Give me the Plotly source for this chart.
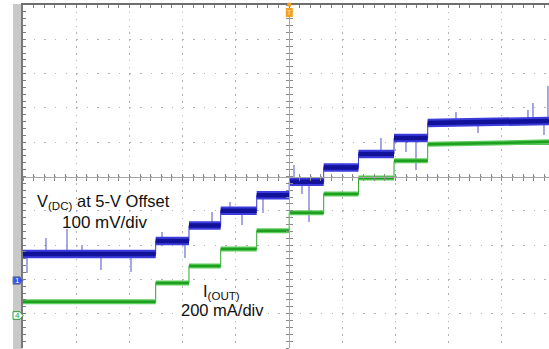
import numpy as np
import plotly.graph_objects as go

# ---------------- data (screen divisions: x = time div, y = vertical div) ----------------
step_t = [0.0, 2.494, 3.120, 3.716, 4.393, 5.004, 5.652, 6.306, 6.974, 7.607]
vdc_levels = [2.741, 3.120, 3.571, 4.003, 4.452, 4.848, 5.262, 5.656, 6.122, 6.560]
vdc_end = 6.62
iout_levels = [1.350, 1.895, 2.391, 2.886, 3.420, 3.945, 4.490, 4.956, 5.461, 5.939]
iout_end = 6.01

vdc_spike_t = [0.075, 0.432, 0.827, 1.109, 1.466, 2.030, 2.613, 3.045, 3.553, 3.891,
               4.117, 4.511, 5.094, 5.244, 5.376, 6.729, 7.199, 7.387, 8.139, 8.553,
               9.492, 9.586, 9.793, 9.868]
vdc_spike_tip = [2.187, 3.207, 3.469, 3.003, 2.274, 2.216, 3.382, 2.624, 3.965, 4.257,
                 3.586, 3.936, 5.335, 4.490, 3.673, 6.122, 5.714, 5.190, 6.880, 6.268,
                 6.939, 7.143, 6.210, 7.638]

# ---------------- layout geometry ----------------
W, H = 549, 349
L, T, B = 23, 5, 1
PW, PH = W - L, H - T - B
DIV_X = 53.2
X_MAX = PW / DIV_X
Y_MAX = 10


def px_x(px):
    return (px - L) / PW


def px_y(py):
    return (H - B - py) / PH


t_end = X_MAX


def segments(levels, end_val):
    xs, ys = [], []
    for i, lv in enumerate(levels):
        t0 = step_t[i]
        t1 = step_t[i + 1] if i + 1 < len(step_t) else t_end
        y1 = lv if i + 1 < len(levels) else end_val
        xs += [t0, t1, None]
        ys += [lv, y1, None]
    return xs, ys


def level_at(levels, t):
    idx = int(np.searchsorted(step_t, t, side="right")) - 1
    return levels[max(idx, 0)]


fig = go.Figure()

# transitions (thin)
fig.add_trace(go.Scatter(x=step_t + [t_end], y=iout_levels + [iout_end], mode="lines",
                         line=dict(color="#2fa52f", width=1, shape="hv"), hoverinfo="skip"))
fig.add_trace(go.Scatter(x=step_t + [t_end], y=vdc_levels + [vdc_end], mode="lines",
                         line=dict(color="#3a3ac8", width=1, shape="hv"), hoverinfo="skip"))

# spikes
sx, sy = [], []
for t, tip in zip(vdc_spike_t, vdc_spike_tip):
    sx += [t, t, None]
    sy += [level_at(vdc_levels, t), tip, None]
fig.add_trace(go.Scatter(x=sx, y=sy, mode="lines", line=dict(color="#5050c8", width=1),
                         hoverinfo="skip"))

# I(OUT) band
gx, gy = segments(iout_levels, iout_end)
fig.add_trace(go.Scatter(x=gx, y=gy, mode="lines", line=dict(color="#5ccc5c", width=5),
                         hoverinfo="skip"))
fig.add_trace(go.Scatter(x=gx, y=gy, mode="lines", line=dict(color="#1f9f1f", width=2.5),
                         hoverinfo="skip"))

# V(DC) band
bx, by = segments(vdc_levels, vdc_end)
fig.add_trace(go.Scatter(x=bx, y=by, mode="lines", line=dict(color="#3c3cdc", width=8.5),
                         hoverinfo="skip"))
fig.add_trace(go.Scatter(x=bx, y=by, mode="lines", line=dict(color="#11119a", width=4.5),
                         hoverinfo="skip"))

# dummy traces so the centre-cross axes are drawn
for xa, ya in [("x2", "y"), ("x3", "y"), ("x", "y2"), ("x", "y3")]:
    fig.add_trace(go.Scatter(x=[None], y=[None], xaxis=xa, yaxis=ya, mode="lines",
                             hoverinfo="skip"))

grid_col = "#b2b2b2"
fig.update_layout(
    width=W, height=H,
    margin=dict(l=L, r=0, t=T, b=B, pad=0, autoexpand=False),
    paper_bgcolor="white", plot_bgcolor="white",
    showlegend=False,
    xaxis=dict(range=[0, X_MAX], side="top", showline=True, linecolor="#6e6e6e", linewidth=2,
               ticks="inside", ticklen=3, tickcolor="#7a7a7a", tick0=0, dtick=1,
               showticklabels=False, showgrid=True, gridcolor=grid_col, gridwidth=1,
               griddash="1.5px,5.36px", zeroline=False, automargin=False,
               minor=dict(tick0=0, dtick=0.2, ticks="inside", ticklen=3, tickcolor="#7a7a7a",
                          showgrid=False)),
    yaxis=dict(range=[0, Y_MAX], side="left", showline=True, linecolor="#7a7a7a", linewidth=2,
               ticks="inside", ticklen=3, tickcolor="#7a7a7a", tick0=0, dtick=1,
               showticklabels=False, showgrid=True, gridcolor=grid_col, gridwidth=1,
               griddash="1.5px,9.14px", zeroline=False, automargin=False,
               minor=dict(tick0=0, dtick=0.2, ticks="inside", ticklen=3, tickcolor="#7a7a7a",
                          showgrid=False)),
    xaxis2=dict(range=[0, X_MAX], overlaying="x", anchor="free", position=0.5, side="bottom",
                showline=True, linecolor="#a6a6a6", linewidth=1, ticks="outside", ticklen=3,
                tickcolor="#8a8a8a", tick0=0, dtick=0.2, showticklabels=False,
                showgrid=False, zeroline=False, automargin=False),
    xaxis3=dict(range=[0, X_MAX], overlaying="x", anchor="free", position=0.5, side="bottom",
                showline=True, linecolor="#a6a6a6", linewidth=1, ticks="inside", ticklen=3,
                tickcolor="#8a8a8a", tick0=0, dtick=0.2, showticklabels=False,
                showgrid=False, zeroline=False, automargin=False),
    yaxis2=dict(range=[0, Y_MAX], overlaying="y", anchor="free", position=5 / X_MAX,
                side="left", showline=True, linecolor="#a6a6a6", linewidth=1, ticks="outside",
                ticklen=3, tickcolor="#8a8a8a", tick0=0, dtick=0.2, showticklabels=False,
                showgrid=False, zeroline=False, automargin=False),
    yaxis3=dict(range=[0, Y_MAX], overlaying="y", anchor="free", position=5 / X_MAX,
                side="left", showline=True, linecolor="#a6a6a6", linewidth=1, ticks="inside",
                ticklen=3, tickcolor="#8a8a8a", tick0=0, dtick=0.2, showticklabels=False,
                showgrid=False, zeroline=False, automargin=False),
)

shapes = []
# grey strip at the left
shapes.append(dict(type="rect", xref="paper", yref="paper", x0=px_x(13), x1=px_x(22.5),
                   y0=px_y(349), y1=px_y(4), fillcolor="#c9c9c9", line=dict(width=0),
                   layer="below"))


def marker_path(y_c):
    pts = [(13, y_c - 3.8), (20, y_c - 3.8), (23, y_c), (20, y_c + 3.8), (13, y_c + 3.8)]
    s = "M " + " L ".join(f"{px_x(a):.5f},{px_y(b):.5f}" for a, b in pts) + " Z"
    return s


shapes.append(dict(type="path", xref="paper", yref="paper", path=marker_path(280.5),
                   fillcolor="#2f55e6", line=dict(color="#7a7a9a", width=1)))
shapes.append(dict(type="path", xref="paper", yref="paper", path=marker_path(315.5),
                   fillcolor="white", line=dict(color="#2a9a2a", width=1)))
# trigger marker
shapes.append(dict(type="circle", xref="paper", yref="paper", x0=px_x(287), x1=px_x(291.5),
                   y0=px_y(7), y1=px_y(2.5), fillcolor="#f5a11c", line=dict(width=0)))
shapes.append(dict(type="rect", xref="paper", yref="paper", x0=px_x(285.8), x1=px_x(292.8),
                   y0=px_y(17), y1=px_y(8), fillcolor="#f5a11c", line=dict(width=0)))
fig.update_layout(shapes=shapes)

FONT = "Liberation Sans, Arial, sans-serif"
ann = []
ann.append(dict(xref="paper", yref="paper", x=px_x(17.8), y=px_y(280.5), text="1",
                showarrow=False, font=dict(family=FONT, size=8, color="white"),
                xanchor="center", yanchor="middle"))
ann.append(dict(xref="paper", yref="paper", x=px_x(17.8), y=px_y(315.5), text="4",
                showarrow=False, font=dict(family=FONT, size=8, color="#2a9a2a"),
                xanchor="center", yanchor="middle"))
ann.append(dict(xref="paper", yref="paper", x=px_x(289.3), y=px_y(12.5), text="T",
                showarrow=False, font=dict(family=FONT, size=7, color="#fde3b0"),
                xanchor="center", yanchor="middle"))

ann.append(dict(x=0.226, y=4.265, text="V<sub>(DC)</sub> at 5-V Offset", showarrow=False,
                xanchor="left", yanchor="middle", font=dict(family=FONT, size=16.5, color="#111")))
ann.append(dict(x=0.69, y=3.668, text="100 mV/div", showarrow=False,
                xanchor="left", yanchor="middle", font=dict(family=FONT, size=17, color="#111")))
ann.append(dict(x=3.337, y=1.62, text="I<sub>(OUT)</sub>", showarrow=False,
                xanchor="left", yanchor="middle", font=dict(family=FONT, size=16.5, color="#111")))
ann.append(dict(x=2.923, y=1.11, text="200 mA/div", showarrow=False,
                xanchor="left", yanchor="middle", font=dict(family=FONT, size=16.5, color="#111")))
fig.update_layout(annotations=ann)

fig.write_html("out.html", config={"displayModeBar": False},
               post_script="document.body.style.margin='0';document.body.style.overflow='hidden';")
